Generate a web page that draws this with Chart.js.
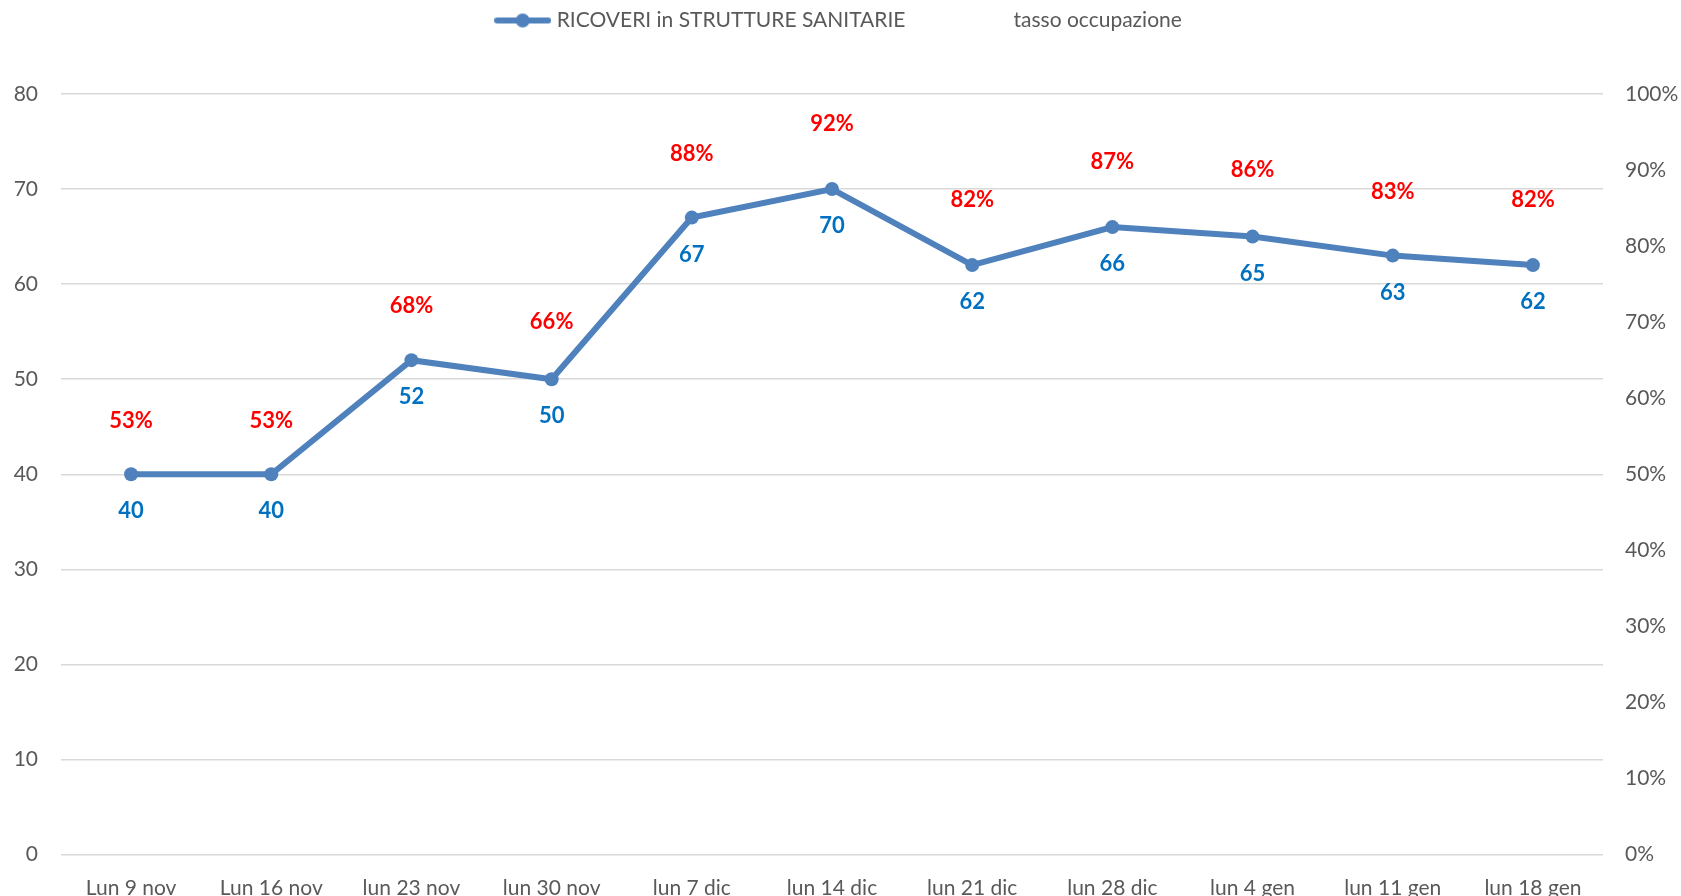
<!DOCTYPE html>
<html>
<head>
<meta charset="utf-8">
<title>Ricoveri in strutture sanitarie</title>
<script src="https://cdn.jsdelivr.net/npm/chart.js@4/dist/chart.umd.min.js"></script>
<style>
    html, body { margin: 0; padding: 0; background: #fff; overflow: hidden; }
    #wrap { width: 1681px; height: 896px; }
</style>
</head>
<body>
<div id="wrap"><canvas id="chart"></canvas></div>
<script>
// Data
const weeks = ['Lun 9 nov', 'Lun 16 nov', 'lun 23 nov', 'lun 30 nov', 'lun 7 dic', 'lun 14 dic',
    'lun 21 dic', 'lun 28 dic', 'lun 4 gen', 'lun 11 gen', 'lun 18 gen'];
const ricoveri = [40, 40, 52, 50, 67, 70, 62, 66, 65, 63, 62];
const tasso = [53, 53, 68, 66, 88, 92, 82, 87, 86, 83, 82];   // percent
const leftTicks = [0, 80, 10];     // min, max, step
const rightTicks = [0, 100, 10];

const blue = '#4F81BD';
const font = 'Lato, "Open Sans", sans-serif';

// Legend marker: line with a dot in the middle
function lineMarker() {
    const c = document.createElement('canvas');
    c.width = 57; c.height = 18;
    const g = c.getContext('2d');
    g.strokeStyle = blue;
    g.lineWidth = 6;
    g.lineCap = 'round';
    g.beginPath();
    g.moveTo(3, 9); g.lineTo(54, 9);
    g.stroke();
    g.fillStyle = blue;
    g.beginPath();
    g.arc(28.5, 9, 7, 0, Math.PI * 2);
    g.fill();
    return c;
}
function blankMarker() {
    const c = document.createElement('canvas');
    c.width = 57; c.height = 18;
    return c;
}

// Value labels next to the points
const valueLabels = {
    id: 'valueLabels',
    afterDatasetsDraw(chart) {
        const ctx = chart.ctx;
        ctx.save();
        ctx.textAlign = 'center';
        ctx.textBaseline = 'middle';
        ctx.font = 'bold 22px ' + font;

        // ricoveri: below the point, blue
        chart.getDatasetMeta(0).data.forEach((pt, i) => {
            ctx.fillStyle = '#0070C0';
            ctx.fillText(ricoveri[i], pt.x, pt.y + 37);
        });
        // tasso occupazione: above, red
        chart.getDatasetMeta(1).data.forEach((pt, i) => {
            ctx.fillStyle = '#FF0000';
            ctx.fillText(tasso[i] + '%', pt.x, pt.y - 31);
        });
        ctx.restore();
    }
};

new Chart(document.getElementById('chart'), {
    type: 'line',
    data: {
        labels: weeks,
        datasets: [{
            label: 'RICOVERI in STRUTTURE SANITARIE',
            data: ricoveri,
            yAxisID: 'y',
            borderColor: blue,
            backgroundColor: blue,
            borderWidth: 6,
            pointRadius: 7,
            pointBackgroundColor: blue,
            pointBorderWidth: 0,
            tension: 0
        }, {
            label: 'tasso occupazione',
            data: tasso,
            yAxisID: 'y1',
            showLine: false,
            pointRadius: 0,
            borderWidth: 0
        }]
    },
    options: {
        responsive: true,
        maintainAspectRatio: false,
        animation: false,
        layout: { padding: { top: -40.5, left: 0, right: 0, bottom: 0 } },
        plugins: {
            legend: {
                position: 'top',
                labels: {
                    font: { family: font, size: 21 },
                    color: '#595959',
                    padding: 50.5,
                    usePointStyle: true,
                    pointStyleWidth: 47,
                    boxHeight: 18,
                    generateLabels: function(chart) {
                        const items = Chart.defaults.plugins.legend.labels.generateLabels(chart);
                        items[0].pointStyle = lineMarker();
                        items[1].pointStyle = blankMarker();
                        return items;
                    }
                }
            },
            // empty title used as spacer under the legend
            title: {
                display: true,
                text: ' ',
                weight: 500,
                font: { size: 10, lineHeight: 1 },
                padding: { top: 0, bottom: 43 }
            },
            tooltip: { enabled: false }
        },
        scales: {
            x: {
                offset: true,
                grid: { display: false },
                border: { display: false },
                ticks: {
                    color: '#595959',
                    font: { family: font, size: 21 },
                    padding: 13.5,
                    maxRotation: 0,
                    autoSkip: false
                },
                afterFit(scale) { scale.height = 41.5; }
            },
            y: {
                position: 'left',
                min: leftTicks[0],
                max: leftTicks[1],
                grid: { color: '#D9D9D9', lineWidth: 1.5, drawTicks: false },
                border: { display: false },
                ticks: {
                    stepSize: leftTicks[2],
                    color: '#595959',
                    font: { family: font, size: 21 },
                    padding: 23
                },
                afterFit(scale) { scale.width = 61; }
            },
            y1: {
                position: 'right',
                min: rightTicks[0],
                max: rightTicks[1],
                grid: { display: false, drawTicks: false },
                border: { display: false },
                ticks: {
                    stepSize: rightTicks[2],
                    color: '#595959',
                    font: { family: font, size: 21 },
                    padding: 22,
                    callback: value => value + '%'
                },
                afterFit(scale) { scale.width = 78; }
            }
        }
    },
    plugins: [valueLabels]
});
</script>
</body>
</html>
